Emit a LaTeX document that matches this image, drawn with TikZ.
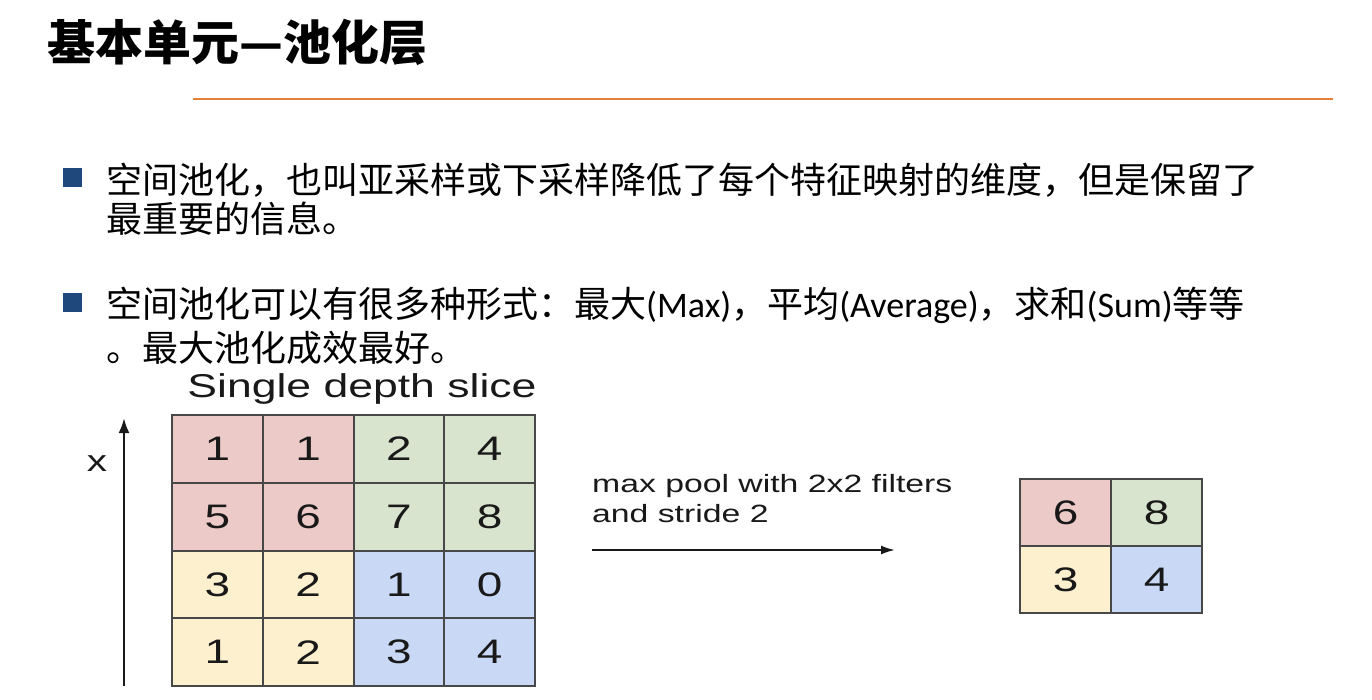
\documentclass[tikz,border=0pt]{standalone}
\usepackage{fontspec}
\setmainfont{Noto Sans CJK SC}
\newfontfamily\latinfont{Carlito}
\newfontfamily\slicefont[FakeStretch=1.35]{Liberation Sans}
\usetikzlibrary{arrows.meta}
\definecolor{rulecol}{RGB}{228,128,56}
\definecolor{bulletcol}{RGB}{31,73,125}
\definecolor{pinkc}{RGB}{236,202,200}
\definecolor{greenc}{RGB}{216,228,206}
\definecolor{yellowc}{RGB}{252,240,206}
\definecolor{bluec}{RGB}{201,217,245}
\definecolor{gridcol}{RGB}{72,72,72}
\tikzset{
  cell/.style={draw=gridcol, line width=2pt, minimum width=90.75pt,
    minimum height=67.75pt, inner sep=0pt, text=black!90,
    font=\slicefont\fontsize{34}{34}\selectfont},
  bodytext/.style={anchor=west, inner sep=0pt, font=\fontsize{36}{44}\selectfont}
}
\tikzset{bulletbox/.style={fill=bulletcol, minimum size=19pt, inner sep=0pt}}

\begin{document}
\begin{tikzpicture}[x=1pt, y=-1pt]
  \useasboundingbox[fill=white] (0,0) rectangle (1372,699);
  \node[anchor=west, inner sep=0pt, font=\bfseries\fontsize{48}{48}\selectfont]
    (title) at (47,42) {基本单元—池化层};
  \draw[rulecol, line width=1.2pt] (193,99) -- (1333,99);

  \node[bulletbox] (bulletA) at (72.5,177.5) {};
  \node[bodytext] (pointA1) at (106,180)
    {空间池化，也叫亚采样或下采样降低了每个特征映射的维度，但是保留了};
  \node[bodytext] (pointA2) at (106,219) {最重要的信息。};
  \node[bulletbox] (bulletB) at (72.5,302.5) {};
  \node[bodytext] (pointB1) at (106,305)
    {空间池化可以有很多种形式：最大{\latinfont(Max)}，平均{\latinfont(Average)}，求和{\latinfont(Sum)}等等};
  \node[bodytext] (pointB2) at (106,348) {。最大池化成效最好。};

  \node[inner sep=0pt, font=\slicefont\fontsize{33}{33}\selectfont, text=black!90]
    (slice) at (362,389) {Single depth slice};
  \foreach \vals [count=\r from 0] in
    {{1/pinkc,1/pinkc,2/greenc,4/greenc},{5/pinkc,6/pinkc,7/greenc,8/greenc},
     {3/yellowc,2/yellowc,1/bluec,0/bluec},{1/yellowc,2/yellowc,3/bluec,4/bluec}}
    \foreach \v/\c [count=\k from 0] in \vals
      \node[cell, fill=\c] (in-\r-\k) at (217.4+90.75*\k, 448.9+67.75*\r) {\v};

  \node[inner sep=0pt, font=\slicefont\fontsize{30}{30}\selectfont, text=black!90]
    (xlabel) at (97,464) {x};
  \coordinate (axisbot) at (124,686);
  \coordinate (axistop) at (124,418);
  \draw[black!90, line width=2.5pt, -{Latex[length=15pt,width=11pt]}] (axisbot) -- (axistop);

  \node[anchor=west, align=left, inner sep=0pt, text=black!90,
    font=\slicefont\fontsize{25}{30}\selectfont]
    (poolnote) at (592,499) {max pool with 2x2 filters\\and stride 2};
  \coordinate (poolstart) at (592,550);
  \coordinate (poolend) at (895,550);
  \draw[black!90, line width=2pt, -{Latex[length=14pt,width=9pt]}] (poolstart) -- (poolend);

  \foreach \vals [count=\r from 0] in {{6/pinkc,8/greenc},{3/yellowc,4/bluec}}
    \foreach \v/\c [count=\k from 0] in \vals
      \node[cell, fill=\c] (out-\r-\k) at (1065.5+91*\k, 512.5+67*\r) {\v};
\end{tikzpicture}
\end{document}
